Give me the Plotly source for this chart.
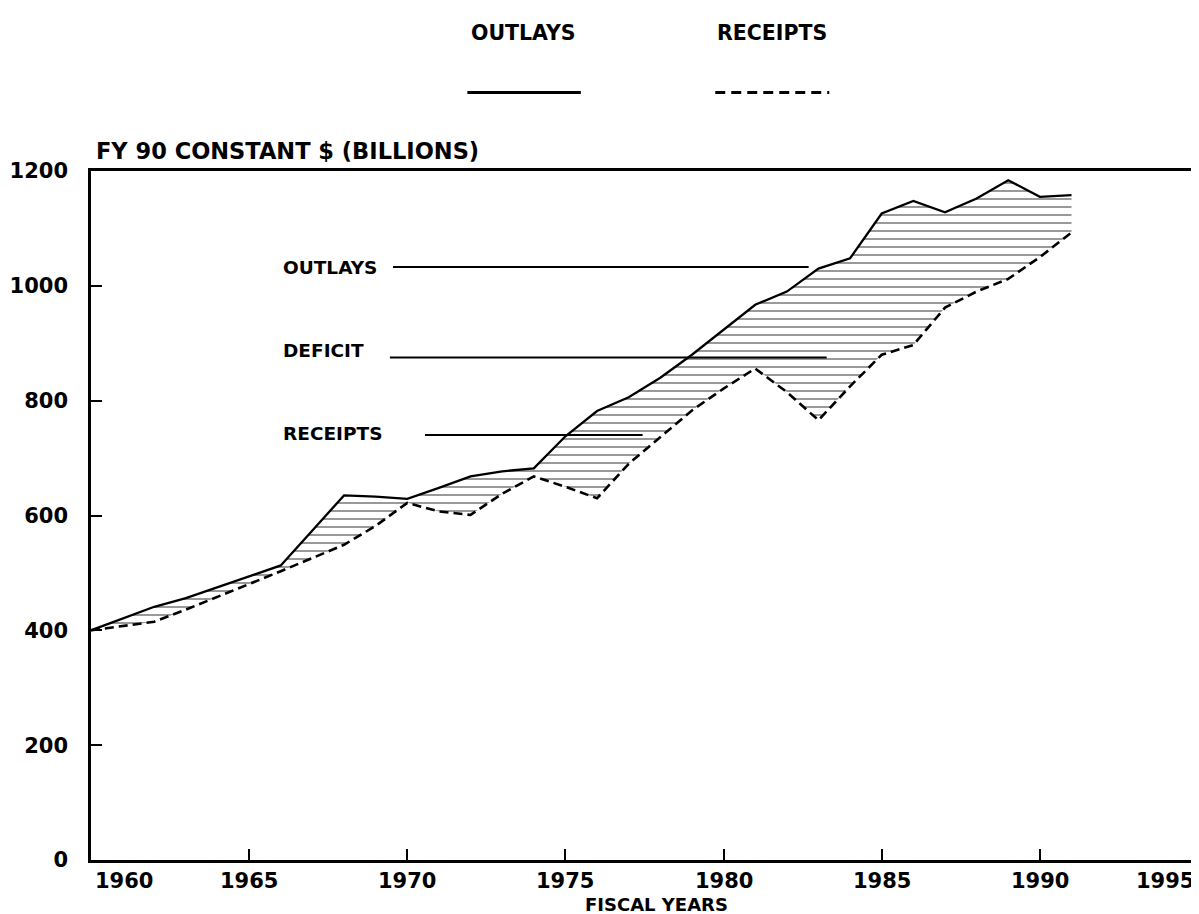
import plotly.graph_objects as go

# ---- data (FY 90 constant $, billions) ----
years = list(range(1960, 1992))
outlays = [400, 421, 441, 456, 475, 494, 513, 574, 635, 633,
           629, 648, 668, 677, 682, 738, 782, 806, 840, 880,
           923, 967, 990, 1030, 1048, 1126, 1148, 1128, 1152, 1184,
           1155, 1158]
receipts = [400, 407, 415, 436, 458, 480, 503, 526, 549, 582,
            622, 607, 601, 638, 668, 650, 630, 690, 737, 783,
            821, 856, 815, 766, 825, 880, 897, 962, 990, 1012,
            1050, 1093]

x_ticks = [1960, 1965, 1970, 1975, 1980, 1985, 1990, 1995]
y_ticks = [0, 200, 400, 600, 800, 1000, 1200]

FONT = "DejaVu Sans"

fig = go.Figure()
fig.add_trace(go.Scatter(
    x=years, y=receipts, mode="lines", name="RECEIPTS",
    line=dict(color="black", width=2.6, dash="9px,5px"),
    showlegend=False))
fig.add_trace(go.Scatter(
    x=years, y=outlays, mode="lines", name="OUTLAYS",
    line=dict(color="black", width=2.3),
    fill="tonexty", fillcolor="rgba(0,0,0,0)",
    fillpattern=dict(shape="-", fgcolor="black", bgcolor="rgba(0,0,0,0)",
                     size=8, solidity=0.2),
    showlegend=False))

annotations = []
# x tick labels (ends pulled inside the frame, as in the original)
for i, yr in enumerate(x_ticks):
    anchor, shift = "center", 0
    if i == 0:
        anchor, shift = "left", 2
    elif i == len(x_ticks) - 1:
        anchor, shift = "right", -2
    annotations.append(dict(
        x=yr, y=0, xref="x", yref="y", text=str(yr), showarrow=False,
        xanchor=anchor, yanchor="top", yshift=-7, xshift=shift,
        font=dict(family=FONT, size=21, color="black", weight="bold")))

# in-plot labels with leader lines
labels = [("OUTLAYS", 1032, 1969.55, 1982.69, 1033),
          ("DEFICIT", 888, 1969.45, 1983.26, 875),
          ("RECEIPTS", 743, 1970.56, 1977.44, 740)]
shapes = []
for txt, ty, lx0, lx1, ly in labels:
    annotations.append(dict(
        x=1966.0, y=ty, xref="x", yref="y", text=txt, showarrow=False,
        xanchor="left", yanchor="middle",
        font=dict(family=FONT, size=18.5, color="black", weight="bold")))
    shapes.append(dict(type="line", xref="x", yref="y",
                       x0=lx0, x1=lx1, y0=ly, y1=ly,
                       line=dict(color="black", width=2)))

# axis titles
annotations.append(dict(
    x=0.003, y=1.0285, xref="paper", yref="paper",
    text="FY 90 CONSTANT $ (BILLIONS)", showarrow=False,
    xanchor="left", yanchor="middle",
    font=dict(family=FONT, size=22.5, color="black", weight="bold")))
annotations.append(dict(
    x=0.5107, y=-0.0645, xref="paper", yref="paper",
    text="FISCAL YEARS", showarrow=False,
    xanchor="center", yanchor="middle",
    font=dict(family=FONT, size=18, color="black", weight="bold")))

# custom legend: text above, line sample below
legend_items = [("OUTLAYS", 0.3905, 0.340, 0.4425, "solid"),
                ("RECEIPTS", 0.6155, 0.5639, 0.6669, "10px,6px")]
for txt, cx, lx0, lx1, dash in legend_items:
    annotations.append(dict(
        x=cx, y=1.200, xref="paper", yref="paper", text=txt,
        showarrow=False, xanchor="center", yanchor="middle",
        font=dict(family=FONT, size=20.5, color="black", weight="bold")))
    shapes.append(dict(type="line", xref="paper", yref="paper",
                       x0=lx0, x1=lx1, y0=1.114, y1=1.114,
                       line=dict(color="black", width=3, dash=dash)))

fig.update_layout(
    width=1199, height=914,
    margin=dict(l=83, r=9, t=163, b=62, autoexpand=False),
    paper_bgcolor="white", plot_bgcolor="white",
    showlegend=False,
    annotations=annotations, shapes=shapes,
    xaxis=dict(range=[1960, 1995], tickvals=x_ticks, showticklabels=False,
               automargin=False,
               ticks="inside", ticklen=11, tickwidth=2, tickcolor="black",
               showline=True, linecolor="black", linewidth=2.6, mirror=True,
               showgrid=False, zeroline=False),
    yaxis=dict(range=[0, 1200], tickvals=y_ticks, automargin=False,
               ticks="inside", ticklen=11, tickwidth=2, tickcolor="black",
               ticklabelstandoff=16,
               tickfont=dict(family=FONT, size=21, color="black", weight="bold"),
               showline=True, linecolor="black", linewidth=2.6, mirror=True,
               showgrid=False, zeroline=False),
)

fig.write_html("out.html")
